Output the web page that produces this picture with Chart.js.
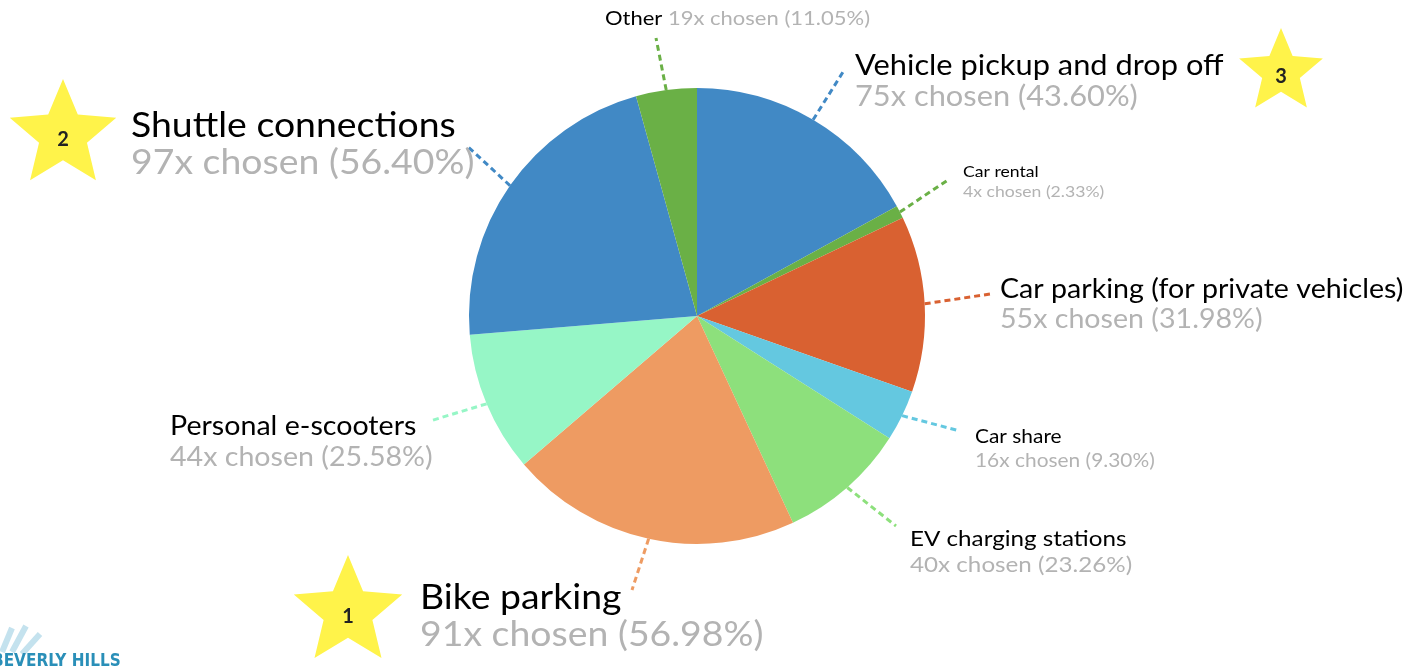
<!DOCTYPE html>
<html><head><meta charset="utf-8">
<script src="https://cdn.jsdelivr.net/npm/chart.js@4/dist/chart.umd.min.js"></script>
<style>html,body{margin:0;padding:0;background:#fff;overflow:hidden}#wrap{width:1413px;height:666px;position:relative}</style>
</head><body><div id="wrap"><canvas id="c" width="1413" height="666"></canvas></div>
<script>
const categories = ["Vehicle pickup and drop off","Car rental","Car parking (for private vehicles)","Car share","EV charging stations","Bike parking","Personal e-scooters","Shuttle connections","Other"];
const counts = [75,4,55,16,40,91,44,97,19];
const percents = ["43.60%","2.33%","31.98%","9.30%","23.26%","56.98%","25.58%","56.40%","11.05%"];
const colors = ["#4189C5","#6AB046","#D96131","#64C8E0","#8DE07C","#EE9B62","#96F6C6","#4189C5","#6AB046"];
const ranks = [{idx:5,n:"1"},{idx:7,n:"2"},{idx:0,n:"3"}];

// layout (label placement, not data)
const labelLayout = [
  {x:855,y1:66,y2:97,size:28,end:[843,72]},
  {x:963,y1:172,y2:192,size:16,end:[948,180]},
  {x:1000,y1:290,y2:320,size:26,end:[990,294]},
  {x:975,y1:437,y2:461,size:19,end:[960,431]},
  {x:910,y1:539,y2:565,size:22,end:[896,526]},
  {x:420,y1:598,y2:635,size:34,end:[632,590]},
  {x:170,y1:427,y2:458,size:26,end:[430,421]},
  {x:131,y1:126,y2:163,size:34,end:[466,145]},
  {x:605,y1:19,y2:19,size:20,end:[656,38],inline:true}
];
const starLayout = [{x:348,y:612,r:57},{x:63,y:135,r:56},{x:1281,y:72,r:44}];
const FONT = "Lato, 'Open Sans', sans-serif";
const STRETCH = 1.1;

function star(ctx,cx,cy,R){
  const r=R*0.45;ctx.beginPath();
  for(let i=0;i<10;i++){const a=-Math.PI/2+i*Math.PI/5;const rr=i%2?r:R;
    ctx.lineTo(cx+rr*Math.cos(a),cy+rr*Math.sin(a));}
  ctx.closePath();ctx.fillStyle="#FFF34A";ctx.fill();
}
function stretchText(ctx,t,x,y){
  ctx.save();ctx.translate(x,y);ctx.scale(STRETCH,1);ctx.fillText(t,0,0);ctx.restore();
}

const labelsPlugin = {
  id:'labelsPlugin',
  afterDraw(chart){
    const ctx=chart.ctx; const meta=chart.getDatasetMeta(0);
    ctx.save();
    meta.data.forEach((arc,i)=>{
      const L=labelLayout[i];
      const mid=(arc.startAngle+arc.endAngle)/2;
      const sx=arc.x+Math.cos(mid)*arc.outerRadius, sy=arc.y+Math.sin(mid)*arc.outerRadius;
      ctx.beginPath();ctx.setLineDash([6,4]);ctx.lineWidth=3;ctx.strokeStyle=colors[i];
      ctx.moveTo(sx,sy);ctx.lineTo(L.end[0],L.end[1]);ctx.stroke();
      ctx.setLineDash([]);
      ctx.textBaseline="middle";ctx.textAlign="left";
      ctx.font=L.size+"px "+FONT;
      const sub=counts[i]+"x chosen ("+percents[i]+")";
      if(L.inline){
        ctx.fillStyle="#000";stretchText(ctx,categories[i],L.x,L.y1);
        const w=ctx.measureText(categories[i]+" ").width*STRETCH;
        ctx.fillStyle="#B3B3B3";stretchText(ctx,sub,L.x+w,L.y2);
      } else {
        ctx.fillStyle="#000";stretchText(ctx,categories[i],L.x,L.y1);
        ctx.fillStyle="#B3B3B3";stretchText(ctx,sub,L.x,L.y2);
      }
    });
    starLayout.forEach((s,k)=>{
      star(ctx,s.x,s.y,s.r);
      ctx.fillStyle="#222";ctx.font="bold 20px "+FONT;ctx.textAlign="center";ctx.textBaseline="middle";
      ctx.fillText(ranks[k].n,s.x,s.y+5);
    });
    // logo fragment
    ctx.strokeStyle="#C4E2EE";ctx.lineWidth=6;
    [[2,652,12,628],[12,652,26,626],[22,654,40,634]].forEach(l=>{ctx.beginPath();ctx.moveTo(l[0],l[1]);ctx.lineTo(l[2],l[3]);ctx.stroke();});
    ctx.fillStyle="#2A8FB8";ctx.font="bold 17px 'Liberation Sans Narrow', 'DejaVu Sans Condensed', sans-serif";ctx.textAlign="left";ctx.textBaseline="alphabetic";
    ctx.fillText("BEVERLY HILLS",-8,666);
    ctx.restore();
  }
};

new Chart(document.getElementById('c'),{
  type:'pie',
  data:{labels:categories,datasets:[{data:counts,backgroundColor:colors,borderWidth:0}]},
  options:{responsive:false,animation:false,
    layout:{padding:{top:88,bottom:122,left:469,right:488}},
    plugins:{legend:{display:false},tooltip:{enabled:false}}},
  plugins:[labelsPlugin]
});
</script></body></html>
